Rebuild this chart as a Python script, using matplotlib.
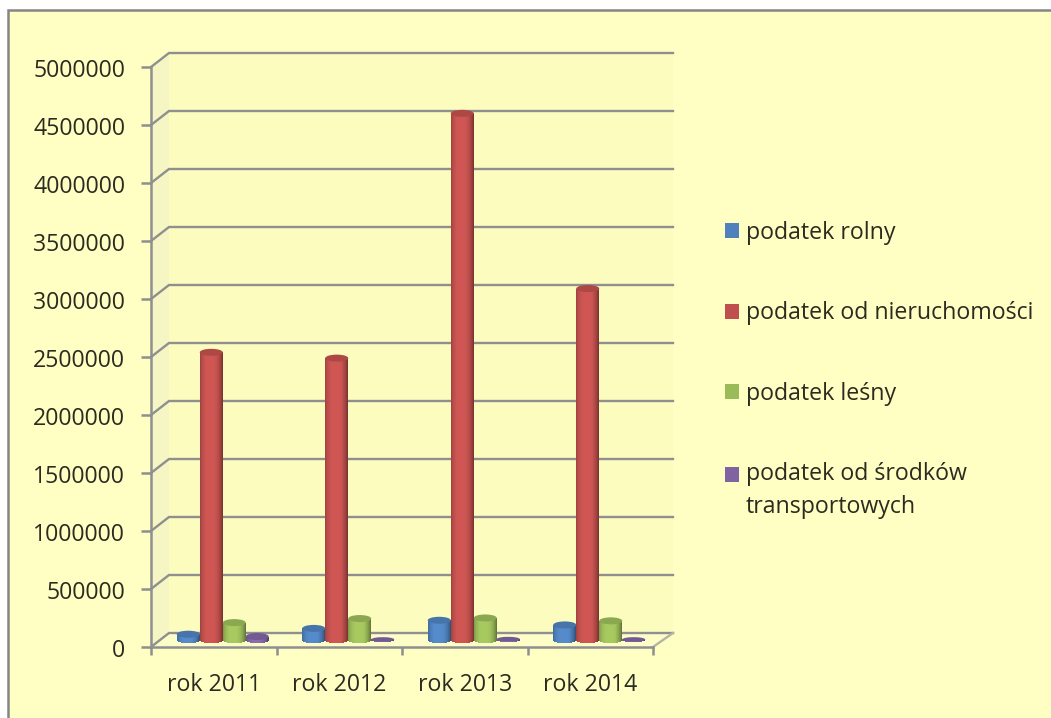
import numpy as np
import matplotlib
matplotlib.use("Agg")
import matplotlib.pyplot as plt
from matplotlib.patches import Ellipse, Polygon, Rectangle, Patch
from matplotlib.transforms import ScaledTranslation

years = ["rok 2011", "rok 2012", "rok 2013", "rok 2014"]
podatek_rolny = [50000, 100000, 170000, 130000]
podatek_nieruchomosci = [2480000, 2430000, 4540000, 3030000]
podatek_lesny = [150000, 185000, 190000, 165000]
podatek_transport = [30000, 5000, 8000, 5000]
series_labels = ["podatek rolny", "podatek od nieruchomości", "podatek leśny",
                 "podatek od środków\ntransportowych"]
series_colors = ["#4F81BD", "#C0504D", "#9BBB59", "#8064A2"]
y_ticks = [0, 500000, 1000000, 1500000, 2000000, 2500000, 3000000, 3500000, 4000000, 4500000, 5000000]

W, H = 1051, 718
plt.rcParams["font.family"] = ["Open Sans", "DejaVu Sans"]
TXT = "#2b2b20"
GRID = "#8f8f8f"
FS = 16.7

fig = plt.figure(figsize=(W / 100, H / 100), dpi=100, facecolor="white")
fig.patches.append(Rectangle((8 / W, -0.01), 1.1, 1 - 10 / H + 0.01, transform=fig.transFigure,
                             fc="#FFFFC4", ec="#858585", lw=1.8, zorder=-5))

L, R, T, B = 151, 653, 67, 647
ax = fig.add_axes([L / W, 1 - B / H, (R - L) / W, (B - T) / H], facecolor="none")
ax.set_xlim(0, len(years))
ax.set_ylim(0, 5000000)
px = len(years) / (R - L)
py = 5000000 / (B - T)
dxl, dxr, dy = 18 * px, 20 * px, 14 * py
xmax = len(years)

# walls and floor
ax.add_patch(Polygon([(dxl, dy), (xmax + dxr, dy), (xmax + dxr, 5000000 + dy), (dxl, 5000000 + dy)],
                     fc="#FCFCBE", ec="none", zorder=0.5, clip_on=False))
ax.add_patch(Polygon([(0, 0), (dxl, dy), (dxl, 5000000 + dy), (0, 5000000)],
                     fc="#F6F6C4", ec="none", zorder=0.6, clip_on=False))
ax.add_patch(Polygon([(0, 0), (xmax, 0), (xmax + dxr, dy), (dxl, dy)],
                     fc="#FDFDC8", ec="none", zorder=0.6, clip_on=False))
for v in y_ticks:
    ax.plot([0, dxl, xmax + dxr], [v, v + dy, v + dy], color=GRID, lw=1.7, zorder=1, clip_on=False,
            solid_joinstyle="miter")
ax.plot([xmax, xmax + dxr], [0, dy], color="#b5b5a5", lw=1.7, zorder=1, clip_on=False)

# cylinders, in data coordinates
bar_w = 23 * px
N = 24
edges = np.linspace(-1, 1, N + 1)
mids = (edges[1:] + edges[:-1]) / 2
shade = 1.08 - 0.36 * np.abs(mids + 0.1) ** 3


def tint(color, f):
    c = np.array(matplotlib.colors.to_rgb(color)) * f
    return tuple(np.clip(c, 0, 1))


all_series = [podatek_rolny, podatek_nieruchomosci, podatek_lesny, podatek_transport]
for j, (vals, col) in enumerate(zip(all_series, series_colors)):
    for i, v in enumerate(vals):
        cx = i + 0.5 + (j - 1.5) * bar_w + dxl / 2
        base = dy / 2
        ell_h = (7 if v > 10000 else 4.5) * py
        sag = ell_h / 2 * np.sqrt(1 - mids ** 2)
        ax.bar(cx + mids * bar_w / 2, v + sag, width=bar_w / N * 1.08,
               bottom=base - sag, color=[tint(col, s) for s in shade],
               lw=0, zorder=3 + i + j * 0.1, clip_on=False)
        ax.add_patch(Ellipse((cx, base + v), bar_w, ell_h, fc=tint(col, 0.9), ec="none",
                             zorder=3.05 + i + j * 0.1, clip_on=False))

# axes
for s in ("top", "right"):
    ax.spines[s].set_visible(False)
for s in ("left", "bottom"):
    ax.spines[s].set_color(GRID)
    ax.spines[s].set_linewidth(1.8)
    ax.spines[s].set_zorder(2)
ax.set_yticks(y_ticks)
ax.set_yticklabels([str(v) for v in y_ticks], fontsize=FS, color=TXT)
ax.set_xticks(range(len(years) + 1))
ax.set_xticklabels([""] * (len(years) + 1))
ax.set_xticks([i + 0.5 for i in range(len(years))], labels=years, minor=True)
ax.tick_params(axis="y", length=7, width=1.8, color=GRID, pad=11.5)
ax.tick_params(axis="x", which="major", length=6, width=1.8, color=GRID)
ax.tick_params(axis="x", which="minor", length=0, pad=18.5, labelsize=FS, labelcolor=TXT)
for t in ax.get_yticklabels():
    t.set_transform(t.get_transform() + ScaledTranslation(0, -1 / 100, fig.dpi_scale_trans))

# legend
handles = [Patch(fc=c, ec="none") for c in series_colors]
leg = ax.legend(handles, series_labels, loc="upper left",
                bbox_to_anchor=(725 / W, 1 - 221 / H), bbox_transform=fig.transFigure,
                frameon=False, fontsize=FS, borderpad=0, borderaxespad=0,
                handlelength=14 * 0.72 / FS, handleheight=14 * 0.72 / FS,
                handletextpad=7 * 0.72 / FS, labelspacing=2.43, labelcolor=TXT)
for t in leg.get_texts():
    t.set_linespacing(1.47)
# the marker of the two-line entry sits beside its first line
last = leg.legend_handles[-1]
last.set_y(last.get_y() + 12)

fig.savefig("out.png", dpi=100, facecolor="white")
